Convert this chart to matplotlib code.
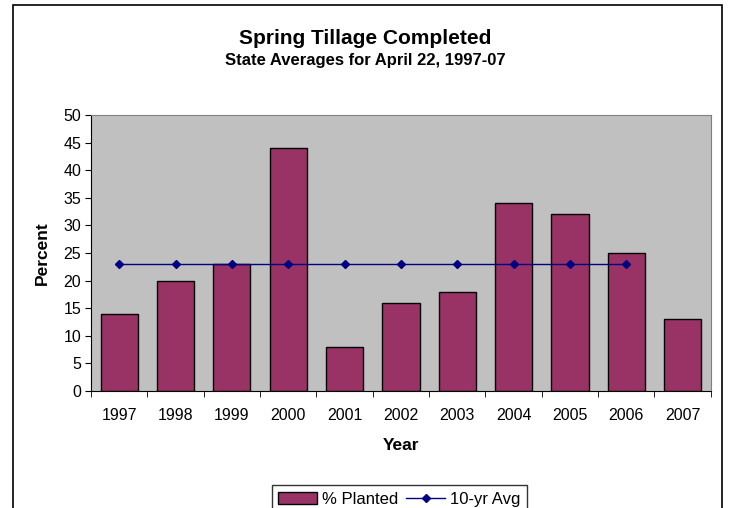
import numpy as np
import matplotlib.pyplot as plt
from matplotlib.patches import Rectangle
from matplotlib.lines import Line2D
from matplotlib.patches import Patch

years = ["1997", "1998", "1999", "2000", "2001", "2002", "2003", "2004", "2005", "2006", "2007"]
planted = [14, 20, 23, 44, 8, 16, 18, 34, 32, 25, 13]
avg_years = ["1997", "1998", "1999", "2000", "2001", "2002", "2003", "2004", "2005", "2006"]
avg10 = [23, 23, 23, 23, 23, 23, 23, 23, 23, 23]

plt.rcParams['font.family'] = ['Liberation Sans', 'DejaVu Sans']

fig = plt.figure(figsize=(7.3, 5.08), dpi=100)
ax = fig.add_axes([0.1247, 0.2303, 0.849, 0.5433])

# outer chart frame (cut off at bottom like the reference)
fig.patches.append(Rectangle((13 / 730, -0.05), 709 / 730, 1 - 5 / 508 + 0.05,
                             transform=fig.transFigure, fill=False,
                             edgecolor="black", lw=1.2))

x = np.arange(len(years))
ax.set_facecolor("#C0C0C0")
ax.bar(x, planted, width=0.66, color="#993366", edgecolor="black", lw=1, zorder=2)
xa = np.arange(len(avg_years))
ax.plot(xa, avg10, color="#000080", lw=1, marker="D", ms=4.5, zorder=3)

ax.set_xlim(-0.5, len(years) - 0.5)
ax.set_ylim(0, 50)
ax.set_yticks(np.arange(0, 51, 5))
ax.set_xticks(x)
ax.set_xticklabels(years)
ax.set_xticks(np.arange(-0.5, len(years) - 0.4, 1), minor=True)
ax.tick_params(axis="x", which="major", length=0, pad=12, labelsize=11.5)
ax.tick_params(axis="x", which="minor", length=4, direction="out")
ax.tick_params(axis="y", length=4, pad=3, direction="out", labelsize=11.5)

for s in ["top", "right"]:
    ax.spines[s].set_color("#808080")
for s in ["left", "bottom"]:
    ax.spines[s].set_color("black")

ax.set_xlabel("Year", fontweight="bold", fontsize=12.5, labelpad=11)
ax.set_ylabel("Percent", fontweight="bold", fontsize=12.5, labelpad=10)

fig.text(0.5, 1 - 38 / 508, "Spring Tillage Completed", ha="center", va="center",
         fontsize=15, fontweight="bold")
fig.text(0.5, 1 - 60 / 508, "State Averages for April 22, 1997-07", ha="center",
         va="center", fontsize=12, fontweight="bold")

handles = [Patch(facecolor="#993366", edgecolor="black", lw=1),
           Line2D([0], [0], color="#000080", lw=1, marker="D", ms=4)]
leg = fig.legend(handles, ["% Planted", "10-yr Avg"], loc="upper center",
                 bbox_to_anchor=(0.547, 1 - 477 / 508), ncol=2, fontsize=12,
                 frameon=True, fancybox=False, edgecolor="black",
                 handlelength=2.3, handletextpad=0.3, columnspacing=0.5,
                 borderpad=0.4)
leg.get_frame().set_linewidth(1)

fig.savefig("out.png", dpi=100)
